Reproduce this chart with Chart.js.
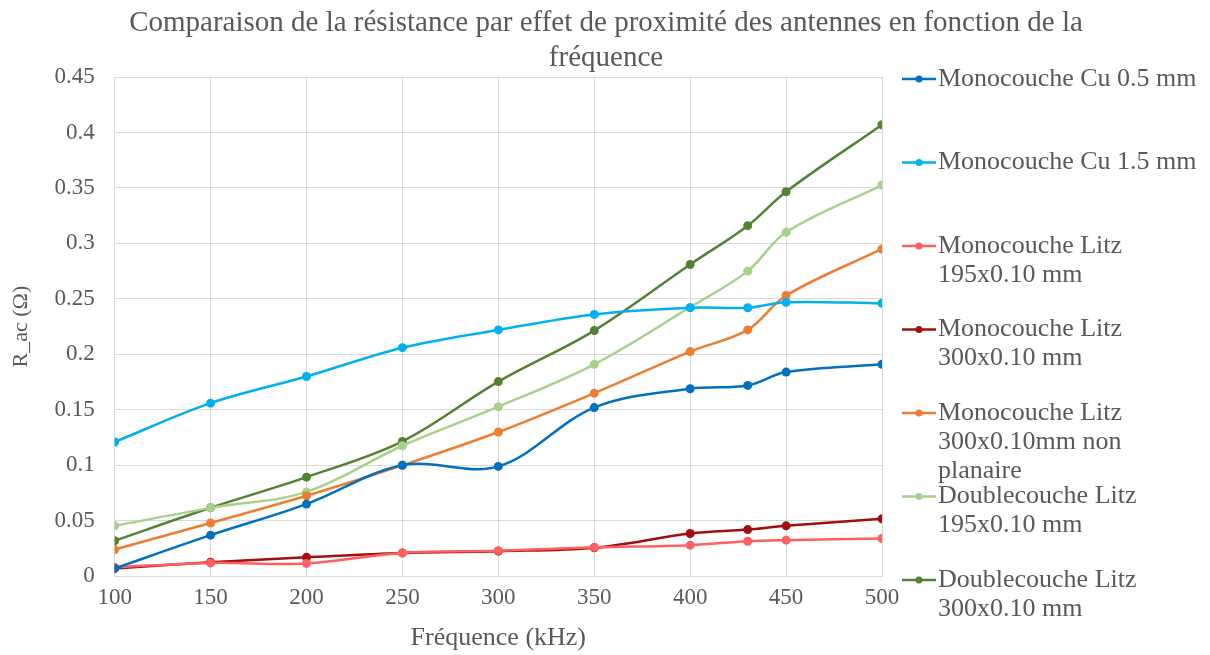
<!DOCTYPE html>
<html>
<head>
<meta charset="utf-8">
<script src="https://cdn.jsdelivr.net/npm/chart.js@4"></script>
<style>
  html, body { margin: 0; padding: 0; background: #fff; }
  #wrap { width: 1210px; height: 655px; }
</style>
</head>
<body>
<div id="wrap"><canvas id="chart" width="1210" height="655"></canvas></div>
<script>
const freq = [100, 150, 200, 250, 300, 350, 400, 430, 450, 500];

const cu05     = [0.007, 0.037, 0.065, 0.100, 0.099, 0.152, 0.169, 0.172, 0.184, 0.191];
const cu15     = [0.121, 0.156, 0.180, 0.206, 0.222, 0.236, 0.242, 0.242, 0.247, 0.246];
const litz195  = [0.008, 0.012, 0.0115, 0.021, 0.023, 0.026, 0.028, 0.0315, 0.0325, 0.034];
const litz300  = [0.007, 0.0126, 0.017, 0.021, 0.0226, 0.0256, 0.0385, 0.042, 0.0454, 0.0517];
const litz300np = [0.024, 0.048, 0.0725, 0.100, 0.130, 0.165, 0.2025, 0.222, 0.253, 0.295];
const dbl195   = [0.0454, 0.0616, 0.076, 0.1176, 0.1528, 0.191, 0.2425, 0.275, 0.310, 0.3526];
const dbl300   = [0.032, 0.0617, 0.0893, 0.1215, 0.1754, 0.2214, 0.281, 0.316, 0.3466, 0.407];

const seriesNames = [
  ['Monocouche Cu 0.5 mm'],
  ['Monocouche Cu 1.5 mm'],
  ['Monocouche Litz', '195x0.10 mm'],
  ['Monocouche Litz', '300x0.10 mm'],
  ['Monocouche Litz', '300x0.10mm non', 'planaire'],
  ['Doublecouche Litz', '195x0.10 mm'],
  ['Doublecouche Litz', '300x0.10 mm']
];
const seriesValues = [cu05, cu15, litz195, litz300, litz300np, dbl195, dbl300];
const seriesColors = ['#0070C0', '#00B0F0', '#FF5F5F', '#A00F0F', '#ED7D31', '#A9D18E', '#548235'];

const titleLines = ['Comparaison de la résistance par effet de proximité des antennes en fonction de la', 'fréquence'];
const xTitle = 'Fréquence (kHz)';
const yTitle = 'R_ac (Ω)';

const FONT = '"Liberation Serif", "Times New Roman", serif';
const GREY = '#595959';

function toPoints(vals){
  return freq.map((f, i) => ({ x: f, y: vals[i] }));
}

const datasets = seriesValues.map((vals, i) => ({
  label: seriesNames[i].join(' '),
  data: toPoints(vals),
  borderColor: seriesColors[i],
  backgroundColor: seriesColors[i],
  borderWidth: 2.5,
  pointRadius: 4.5,
  pointBorderWidth: 0,
  tension: 0.35,
  fill: false
}));

// title centred on the whole canvas + legend with wrapped names, drawn by hand
const sideParts = {
  id: 'sideParts',
  afterDraw(chart){
    const ctx = chart.ctx;
    ctx.save();
    ctx.textBaseline = 'middle';
    ctx.fillStyle = GREY;
    ctx.font = '29px ' + FONT;
    ctx.textAlign = 'center';
    titleLines.forEach((line, k) => ctx.fillText(line, 606, 23 + k * 35));

    ctx.textAlign = 'left';
    ctx.font = '26px ' + FONT;
    chart.data.datasets.forEach((ds, i) => {
      const y = 79 + i * 83.5;
      ctx.strokeStyle = ds.borderColor;
      ctx.lineWidth = 2.5;
      ctx.beginPath(); ctx.moveTo(902, y); ctx.lineTo(936, y); ctx.stroke();
      ctx.fillStyle = ds.borderColor;
      ctx.beginPath(); ctx.arc(919, y, 3.5, 0, Math.PI * 2); ctx.fill();
      ctx.fillStyle = GREY;
      seriesNames[i].forEach((line, k) => ctx.fillText(line, 938, y + k * 29));
    });
    ctx.restore();
  }
};

new Chart(document.getElementById('chart'), {
  type: 'line',
  data: { datasets },
  plugins: [sideParts],
  options: {
    responsive: false,
    animation: false,
    layout: { padding: { left: 8, right: 328, top: 77, bottom: 1 } },
    plugins: {
      legend: { display: false },
      tooltip: { enabled: false },
      title: { display: false }
    },
    scales: {
      x: {
        type: 'linear',
        min: 100, max: 500,
        ticks: { stepSize: 50, color: GREY, font: { family: FONT, size: 23 }, padding: 8 },
        grid: { color: '#D9D9D9', drawTicks: false },
        border: { color: '#D9D9D9' },
        title: { display: true, text: xTitle, color: GREY, font: { family: FONT, size: 26 }, padding: { top: 3, bottom: 0 } }
      },
      y: {
        min: 0, max: 0.45,
        ticks: {
          stepSize: 0.05, color: GREY, font: { family: FONT, size: 23 }, padding: 20,
          callback: v => String(+v.toFixed(2))
        },
        grid: { color: '#D9D9D9', drawTicks: false },
        border: { color: '#D9D9D9' },
        title: { display: true, text: yTitle, color: GREY, font: { family: FONT, size: 22 }, padding: { top: 0, bottom: 0 } }
      }
    }
  }
});
</script>
</body>
</html>
